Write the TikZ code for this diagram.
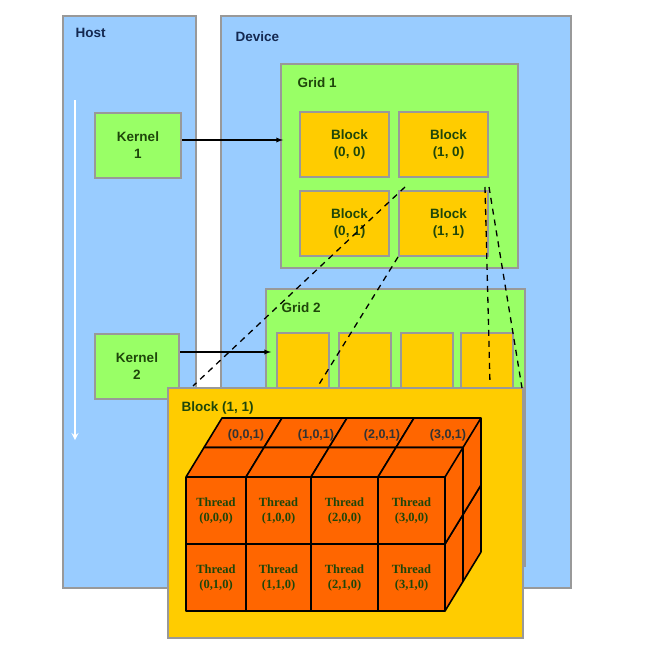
\documentclass[tikz,border=0pt]{standalone}
\usepackage{fontspec}
\setmainfont{Liberation Sans}
\newfontfamily\thrfont{Liberation Serif}
\usetikzlibrary{positioning}
\definecolor{hostblue}{RGB}{153,204,255}
\definecolor{gridgreen}{RGB}{153,255,102}
\definecolor{blockyel}{RGB}{255,204,0}
\definecolor{cubeor}{RGB}{255,102,0}
\definecolor{txtgreen}{RGB}{30,70,10}
\definecolor{txtblue}{RGB}{20,40,80}
\tikzset{box/.style = {draw=gray!80,line width=2pt,anchor=north west,inner sep=0pt},
         lbl/.style = {font=\bfseries\fontsize{13.5}{17}\selectfont,align=center},
         thr/.style = {font=\thrfont\bfseries\fontsize{12.5}{15}\selectfont,align=center,text=txtgreen}}
\begin{document}
\begin{tikzpicture}[x=1pt,y=-1pt]
    \useasboundingbox (0,0) rectangle (649,660);
    % host and device
    \node [box,fill=hostblue,minimum width=133,minimum height=572] (host) at (62,15) {};
    \node [box,fill=hostblue,minimum width=350,minimum height=572] (dev) at (220,15) {};
    \node [lbl,text=txtblue,anchor=west] at (72,33) {Host};
    \node [lbl,text=txtblue,anchor=west] at (232,37) {Device};
    \coordinate (ha) at (75,100);
    \coordinate (hb) at (75,440);
    \draw [white,line width=2pt,-stealth] (ha) -- (hb);

    % grid 1
    \node [box,fill=gridgreen,minimum width=237,minimum height=204] (g1) at (280,63) {};
    \node [lbl,text=txtgreen,anchor=west] at (294,83) {Grid 1};
    \foreach \x/\y/\i/\j in {299/111/0/0, 398/111/1/0, 299/190/0/1, 398/190/1/1}
        \node [box,fill=blockyel,minimum width=89,minimum height=65] (b\i\j) at (\x,\y) {};
    \foreach \i/\j in {0/0,1/0,0/1,1/1}
        \node [lbl,text=txtgreen] at ([xshift=5pt]b\i\j.center) {Block\\(\i, \j)};

    % grid 2
    \node [box,fill=gridgreen,minimum width=259,minimum height=277] (g2) at (265,288) {};
    \node [lbl,text=txtgreen,anchor=west] at (278,308) {Grid 2};
    \foreach \x [count=\k] in {276,338,400,460}
        \node [box,fill=blockyel,minimum width=52,minimum height=150] (s\k) at (\x,332) {};

    % kernels
    \node [box,fill=gridgreen,minimum width=86,minimum height=65] (k1) at (94,112) {};
    \node [lbl,text=txtgreen] at (k1.center) {Kernel\\1};
    \node [box,fill=gridgreen,minimum width=84,minimum height=65] (k2) at (94,333) {};
    \node [lbl,text=txtgreen] at (k2.center) {Kernel\\2};
    \coordinate (g1in) at (283,140);
    \coordinate (g2in) at (271,352);
    \draw [line width=1.3pt,-latex] (k1.east |- g1in) -- (g1in);
    \draw [line width=1.3pt,-latex] (k2.east |- g2in) -- (g2in);

    % zoomed block
    \node [box,fill=blockyel,minimum width=355,minimum height=250] (big) at (167,387) {};
    \node [lbl,text=txtgreen,anchor=west] at (178,408) {Block (1, 1)};
    \coordinate (d1) at (193,386);
    \coordinate (d2) at (318,386);
    \coordinate (d3) at (490,384);
    \coordinate (d4) at (522,388);
    \draw [line width=1.3pt,dash pattern=on 6pt off 5pt] (b11.north west) ++(7,-3) -- (d1);
    \draw [line width=1.3pt,dash pattern=on 6pt off 5pt] (b11.south west) -- (d2);
    \draw [line width=1.3pt,dash pattern=on 6pt off 5pt] (b11.north east) ++(-4,-3) -- (d3);
    \draw [line width=1.3pt,dash pattern=on 6pt off 5pt] (b11.north east) ++(0,-3) -- (d4);

    % threads
    \foreach \z in {1,0}{
        \foreach \y in {1,0}{
            \foreach \x/\o/\w in {0/0/60,1/60/65,2/125/67,3/192/67}{
                \pgfmathsetmacro\xa{186+\o+18*\z}
                \pgfmathsetmacro\ya{477+67*\y-29.5*\z}
                \pgfmathsetmacro\xb{\xa+\w}
                \pgfmathsetmacro\yb{\ya+67}
                \filldraw [fill=cubeor,line width=1.6pt,line join=round]
                    (\xa,\ya) -- (\xa+18,\ya-29.5) -- (\xb+18,\ya-29.5) -- (\xb+18,\yb-29.5) -- (\xb,\yb) -- (\xa,\yb) -- cycle;
                \draw [line width=1.6pt,line join=round]
                    (\xa,\ya) -- (\xb,\ya) -- (\xb+18,\ya-29.5) (\xb,\ya) -- (\xb,\yb);
                \ifnum\z=0
                    \node [thr] at ({(\xa+\xb)/2},{(\ya+\yb)/2}) {Thread\\(\x,\y,0)};
                \fi
            }
        }
    }
    \foreach \x/\xp in {0/246,1/316,2/382,3/448}
        \node [lbl,font=\bfseries\fontsize{12.5}{15}\selectfont,text=black!80] at (\xp,435) {(\x,0,1)};
\end{tikzpicture}
\end{document}
